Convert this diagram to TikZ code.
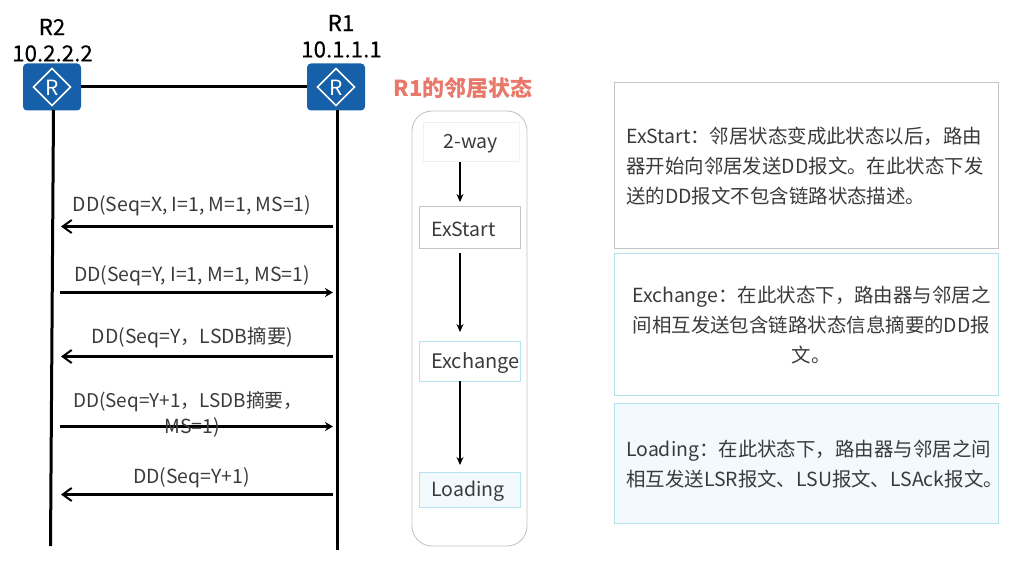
\documentclass[tikz,border=0pt]{standalone}
\usepackage{fontspec}
\setmainfont{Noto Sans CJK SC}
\newfontfamily\namefont[FakeBold=0.25]{Noto Sans CJK SC}
\usetikzlibrary{arrows.meta}
\definecolor{txt}{HTML}{3A3A3A}
\definecolor{rblue}{HTML}{1560A8}
\definecolor{salmon}{HTML}{E8786A}
\definecolor{grayb}{HTML}{C4C4C4}
\definecolor{blueb}{HTML}{B4E2EE}
\definecolor{bluef}{HTML}{F3FAFE}
\newcommand{\fs}[2]{\fontsize{#1}{#2}\selectfont}
\tikzset{
  x=1pt,y=-1pt,
  router/.style={fill=rblue,rounded corners=4pt,minimum width=58pt,minimum height=47pt,inner sep=0pt,draw=none},
  rname/.style={text=black,inner sep=0pt,font=\namefont\fs{22.3}{26}},
  link/.style={line width=3pt,black},
  msg/.style={line width=2.6pt,black},
  larrow/.style={msg,-{Straight Barb[length=9pt,width=13pt,line width=2pt]}},
  rarrow/.style={msg,-{Stealth[length=8pt,width=9pt]}},
  msgtext/.style={text=txt,inner sep=0pt,font=\fs{19.4}{28},align=center},
  st/.style={minimum width=101pt,inner sep=0pt,line width=0.9pt,text=txt,font=\fs{19.5}{24}},
  stflow/.style={line width=1.6pt,black,-{Stealth[length=8pt,width=7pt]}},
  desc/.style={minimum width=384pt,inner sep=0pt,line width=0.9pt},
  desctext/.style={text=txt,inner sep=0pt,font=\fs{19.45}{30}}
}
\begin{document}
\begin{tikzpicture}
\useasboundingbox (0,0) rectangle (1015,561);
% routers
\node[router] (r2) at (52,87) {};
\node[router] (r1) at (336,87) {};
\foreach \r in {r1,r2}{
  \draw[white,line width=1.7pt] ([xshift=-18.5pt]\r.center) -- ([yshift=-18.5pt]\r.center) -- ([xshift=18.5pt]\r.center) -- ([yshift=18.5pt]\r.center) -- cycle;
  \node[text=white,inner sep=0pt,font=\fs{21}{24}] at ([yshift=-0.5pt]\r.center) {R};
}
\node[rname] (r2n) at (52,27) {R2};
\node[rname] (r2a) at (52.5,53.5) {10.2.2.2};
\node[rname] (r1n) at (341,23) {R1};
\node[rname] (r1a) at (341.5,49.5) {10.1.1.1};
\draw[link] (r2.east) -- (r1.west);
% lifelines
\coordinate (l2e) at (50.5,546);
\coordinate (l1e) at (337,550);
\draw[link] (53.5,110) -- (l2e);
\draw[link] (337,110) -- (l1e);
% messages
\coordinate (a1r) at (333,226.5); \coordinate (a1l) at (61,226.5);
\coordinate (a2r) at (333,292.5); \coordinate (a2l) at (60,292.5);
\coordinate (a3r) at (333,356.5); \coordinate (a3l) at (61,356.5);
\coordinate (a4r) at (333,426.5); \coordinate (a4l) at (60,426.5);
\coordinate (a5r) at (333,494.5); \coordinate (a5l) at (61,494.5);
\draw[larrow] (a1r) -- (a1l);
\draw[rarrow] (a2l) -- (a2r);
\draw[larrow] (a3r) -- (a3l);
\draw[rarrow] (a4l) -- (a4r);
\draw[larrow] (a5r) -- (a5l);
\node[msgtext] (m1) at (192,206) {DD(Seq=X, I=1, M=1, MS=1)};
\node[msgtext] (m2) at (192,276) {DD(Seq=Y, I=1, M=1, MS=1)};
\node[msgtext] (m3) at (192.5,337) {DD(Seq=Y，LSDB摘要)};
\node[msgtext,font=\fs{18.9}{28}] (m4) at (188,402) {DD(Seq=Y+1，LSDB摘要，};
\node[msgtext] (m4b) at (192,427) {MS=1)};
\node[msgtext] (m5) at (191.5,478) {DD(Seq=Y+1)};
% state column
\node[text=salmon,inner sep=0pt,font=\fs{22}{26}\bfseries] (ttl) at (463,88) {R1的邻居状态};
\node[draw=grayb,line width=0.9pt,rounded corners=20pt,minimum width=115pt,minimum height=435pt,inner sep=0pt] (col) at (469.5,328.5) {};
\node[st,draw=black!6,minimum width=96pt,minimum height=39pt] (s1) at (471,142) {};
\node[st,draw=grayb,minimum height=42pt] (s2) at (469.5,227.5) {};
\node[st,draw=blueb,minimum height=40pt] (s3) at (469.5,361) {};
\node[st,draw=blueb,fill=bluef,minimum height=35pt] (s4) at (469.5,489.5) {};
\node[text=txt,inner sep=0pt,font=\fs{19.5}{24}] (s1t) at (471,144) {2-way};
\node[text=txt,inner sep=0pt,font=\fs{19.5}{24},anchor=west] (s2t) at (431,229) {ExStart};
\node[text=txt,inner sep=0pt,font=\fs{20}{24},anchor=west] (s3t) at (431,363) {Exchange};
\node[text=txt,inner sep=0pt,font=\fs{19.5}{24},anchor=west] (s4t) at (431,491) {Loading};
\draw[stflow] (s1.south -| 460,0) -- (460,202);
\draw[stflow] (s2.south -| 460,0) ++(0,4) -- (460,332);
\draw[stflow] (s3.south -| 460,0) -- (460,465);
% description boxes
\node[desc,draw=grayb,minimum height=166pt] (d1) at (806,165) {};
\node[desc,draw=blueb,minimum height=142pt] (d2) at (806,324) {};
\node[desc,draw=blueb,fill=bluef,minimum height=120pt] (d3) at (806,463) {};
\node[desctext,anchor=west,align=left] (t1) at (626,166) {ExStart：邻居状态变成此状态以后，路由\\器开始向邻居发送DD报文。在此状态下发\\送的DD报文不包含链路状态描述。};
\node[desctext,anchor=west,align=center] (t2) at (632,325) {Exchange：在此状态下，路由器与邻居之\\间相互发送包含链路状态信息摘要的DD报\\文。};
\node[desctext,anchor=west,align=left] (t3) at (626,464) {Loading：在此状态下，路由器与邻居之间\\相互发送LSR报文、LSU报文、LSAck报文。};
\end{tikzpicture}
\end{document}
